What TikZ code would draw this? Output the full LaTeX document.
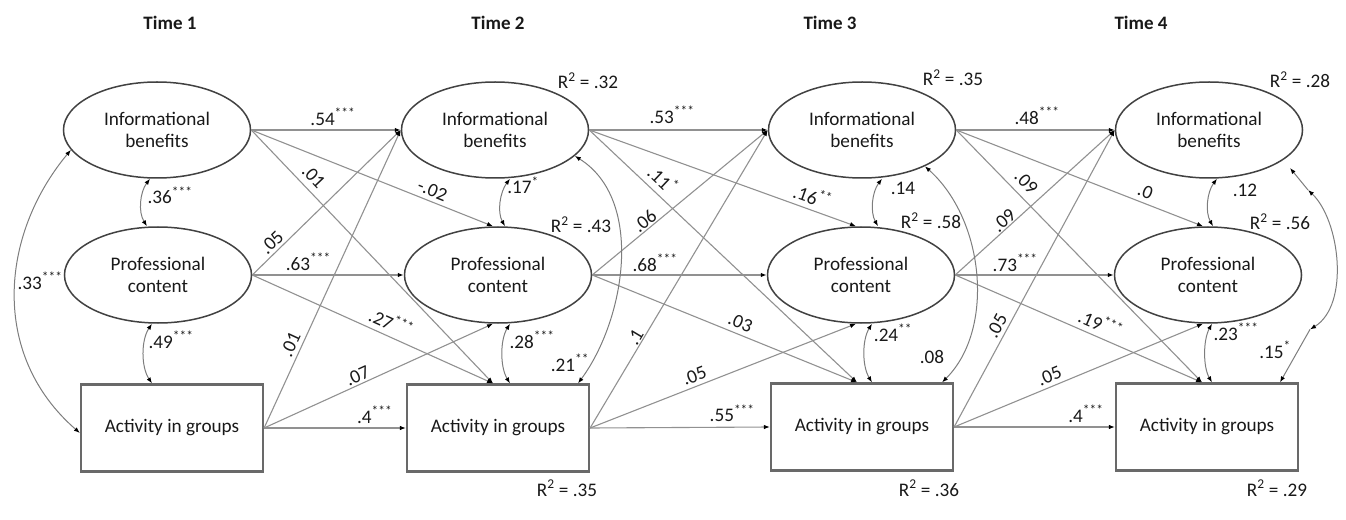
\documentclass[tikz,border=0pt]{standalone}
\usepackage{fontspec}
\setmainfont{Carlito}
\usetikzlibrary{shapes.geometric,arrows.meta,calc}
\definecolor{txt}{RGB}{25,25,25}
\definecolor{ellc}{RGB}{65,65,65}
\definecolor{boxc}{RGB}{105,105,105}
\definecolor{linec}{RGB}{145,145,145}
\definecolor{covc}{RGB}{125,125,125}
\newcommand\sps[1]{\textsuperscript{#1}}
\begin{document}
\begin{tikzpicture}[x=1bp,y=-1bp,
  font=\fontsize{19.2bp}{22bp}\selectfont, text=txt,
  >={Latex[length=6bp,width=4.5bp,color=black]},
  lat/.style={ellipse, draw=ellc, line width=1.5bp, minimum width=187bp, minimum height=96bp, inner sep=0pt, align=center},
  obs/.style={rectangle, draw=boxc, line width=2.2bp, minimum width=182bp, minimum height=87bp, inner sep=0pt},
  pth/.style={draw=linec, line width=1.1bp, ->},
  cov/.style={draw=covc, line width=1bp, <->},
  covone/.style={draw=covc, line width=1bp, ->},
  lab/.style={inner sep=1bp, text height=12bp, text depth=0bp},
  timel/.style={font=\fontsize{19bp}{22bp}\selectfont\bfseries}]
\useasboundingbox (0,0) rectangle (1346,520);

% time labels
\node[timel] (T1) at (170,23) {Time 1};
\node[timel] (T2) at (498,23) {Time 2};
\node[timel] (T3) at (830,23) {Time 3};
\node[timel] (T4) at (1141,23) {Time 4};

% nodes
\node[lat] (IB1) at (157,130) {Informational\\benefits};
\node[lat] (PC1) at (158,275) {Professional\\content};
\node[obs] (AG1) at (172,428) {Activity in groups};
\node[lat] (IB2) at (495,130) {Informational\\benefits};
\node[lat] (PC2) at (498,275) {Professional\\content};
\node[obs] (AG2) at (498,428) {Activity in groups};
\node[lat] (IB3) at (862,130) {Informational\\benefits};
\node[lat] (PC3) at (861,275) {Professional\\content};
\node[obs] (AG3) at (862,427) {Activity in groups};
\node[lat] (IB4) at (1209,130) {Informational\\benefits};
\node[lat] (PC4) at (1208,275) {Professional\\content};
\node[obs] (AG4) at (1207,427) {Activity in groups};

% R squared
\node[lab] (r1) at (588,83) {R\sps{2} = .32};
\node[lab] (r2) at (581,227) {R\sps{2} = .43};
\node[lab] (r3) at (567,490) {R\sps{2} = .35};
\node[lab] (r4) at (953,80) {R\sps{2} = .35};
\node[lab] (r5) at (931,223) {R\sps{2} = .58};
\node[lab] (r6) at (929,490) {R\sps{2} = .36};
\node[lab] (r7) at (1300,82) {R\sps{2} = .28};
\node[lab] (r8) at (1280,224) {R\sps{2} = .56};
\node[lab] (r9) at (1277,490) {R\sps{2} = .29};

% Time 1 -> Time 2
\draw[pth] (IB1.east) -- node[lab,above=3bp,pos=.546]{.54\sps{***}} (IB2.west);
\draw[pth] (IB1.east) -- node[lab,sloped,above=3bp,pos=.733]{-.02} ([xshift=-5bp]PC2.north);
\draw[pth] (IB1.east) -- node[lab,sloped,above=5bp,pos=.22]{.01} ([xshift=-5bp]AG2.north);
\draw[pth] (PC1.east) -- node[lab,sloped,above=2bp,pos=.177]{.05} (IB2.west);
\draw[pth] (PC1.east) -- node[lab,above=3bp,pos=.37]{.63\sps{***}} (PC2.west);
\draw[pth] (PC1.east) -- node[lab,sloped,above=4bp,pos=.554]{.27\sps{***}} ([xshift=-5bp]AG2.north);
\draw[pth] (AG1.east) -- node[lab,sloped,above=3bp,pos=.265]{.01} (IB2.west);
\draw[pth] (AG1.east) -- node[lab,sloped,above=1bp,pos=.424]{.07} ([xshift=-5bp]PC2.south);
\draw[pth] (AG1.east) -- node[lab,above=3bp,pos=.78]{.4\sps{***}} (AG2.west);

% Time 2 -> Time 3
\draw[pth] (IB2.east) -- node[lab,above=5bp,pos=.464]{.53\sps{***}} (IB3.west);
\draw[pth] (IB2.east) -- node[lab,sloped,above=4bp,pos=.82]{.16\sps{**}} ([xshift=-5bp]PC3.north);
\draw[pth] (IB2.east) -- node[lab,sloped,above=5bp,pos=.238]{.11\sps{*}} ([xshift=-5bp]AG3.north);
\draw[pth] (PC2.east) -- node[lab,sloped,above=0bp,pos=.328]{.06} (IB3.west);
\draw[pth] (PC2.east) -- node[lab,above=2bp,pos=.36]{.68\sps{***}} (PC3.west);
\draw[pth] (PC2.east) -- node[lab,sloped,above=4bp,pos=.543]{.03} ([xshift=-5bp]AG3.north);
\draw[pth] (AG2.east) -- node[lab,sloped,above=0bp,pos=.292]{.1} (IB3.west);
\draw[pth] (AG2.east) -- node[lab,sloped,above=3bp,pos=.407]{.05} ([xshift=-5bp]PC3.south);
\draw[pth] (AG2.east) -- node[lab,above=4bp,pos=.79]{.55\sps{***}} (AG3.west);

% Time 3 -> Time 4
\draw[pth] (IB3.east) -- node[lab,above=4bp,pos=.51]{.48\sps{***}} (IB4.west);
\draw[pth] (IB3.east) -- node[lab,sloped,above=4bp,pos=.749]{.0} ([xshift=-5bp]PC4.north);
\draw[pth] (IB3.east) -- node[lab,sloped,above=6bp,pos=.245]{.09} ([xshift=-5bp]AG4.north);
\draw[pth] (PC3.east) -- node[lab,sloped,above=0bp,pos=.337]{.09} (IB4.west);
\draw[pth] (PC3.east) -- node[lab,above=2bp,pos=.378]{.73\sps{***}} (PC4.west);
\draw[pth] (PC3.east) -- node[lab,sloped,above=4bp,pos=.567]{.19\sps{***}} ([xshift=-5bp]AG4.north);
\draw[pth] (AG3.east) -- node[lab,sloped,above=3bp,pos=.324]{.05} (IB4.west);
\draw[pth] (AG3.east) -- node[lab,sloped,above=3bp,pos=.40]{.05} ([xshift=-5bp]PC4.south);
\draw[pth] (AG3.east) -- node[lab,above=3bp,pos=.82]{.4\sps{***}} (AG4.west);

% covariances, time 1
\draw[cov] ([xshift=-7bp]IB1.south) .. controls (140,192) and (138,212) .. ([xshift=-11bp]PC1.north);
\draw[cov] ([xshift=-6bp]PC1.south) .. controls (141,340) and (141,367) .. ([xshift=-20bp]AG1.north);
\draw[cov] (IB1.193) .. controls (0,235) and (-10,355) .. ([yshift=-5bp]AG1.west);
\node[lab] (c1) at (170,198) {.36\sps{***}};
\node[lab] (c2) at (171,342) {.49\sps{***}};
\node[lab] (c3) at (40,283) {.33\sps{***}};

% covariances, time 2
\draw[cov] ([xshift=15bp]IB2.south) .. controls (500,192) and (497,212) .. ([xshift=7bp]PC2.north);
\draw[cov] ([xshift=12bp]PC2.south) .. controls (500,340) and (500,367) .. ([xshift=12bp]AG2.north);
\draw[cov] (IB2.-18) .. controls (645,200) and (625,320) .. ([xshift=80bp]AG2.north);
\node[lab] (c4) at (523,188) {.17\sps{*}};
\node[lab] (c5) at (532,342) {.28\sps{***}};
\node[lab] (c6) at (570,365) {.21\sps{**}};

% covariances, time 3
\draw[cov] ([xshift=20bp]IB3.south) .. controls (872,192) and (870,212) .. ([xshift=17bp]PC3.north);
\draw[cov] ([xshift=11bp]PC3.south) .. controls (862,340) and (862,366) .. ([xshift=10bp]AG3.north);
\draw[cov] (IB3.-30) .. controls (985,220) and (995,330) .. ([xshift=80bp]AG3.north);
\node[lab] (c7) at (903,189) {.14};
\node[lab] (c8) at (893,335) {.24\sps{**}};
\node[lab] (c9) at (932,357) {.08};

% covariances, time 4
\draw[cov] ([xshift=8bp]IB4.south) .. controls (1207,192) and (1205,212) .. ([xshift=5bp]PC4.north);
\draw[cov] ([xshift=4bp]PC4.south) .. controls (1203,340) and (1203,367) .. ([xshift=5bp]AG4.north);
\coordinate (q1) at ($(IB4.center)+(81,38)$);
\coordinate (q2) at ($(IB4.center)+(99,60)$);
\coordinate (q3) at ($(AG4.north)+(103,-53)$);
\draw[cov] (q2) .. controls (1340,220) and (1350,305) .. (q3);
\draw[covone] (q2) -- (q1);
\draw[covone] (q3) -- ([xshift=73bp]AG4.north);
\node[lab] (c10) at (1245,191) {.12};
\node[lab] (c11) at (1236,334) {.23\sps{***}};
\node[lab] (c12) at (1275,352) {.15\sps{*}};
\end{tikzpicture}
\end{document}
